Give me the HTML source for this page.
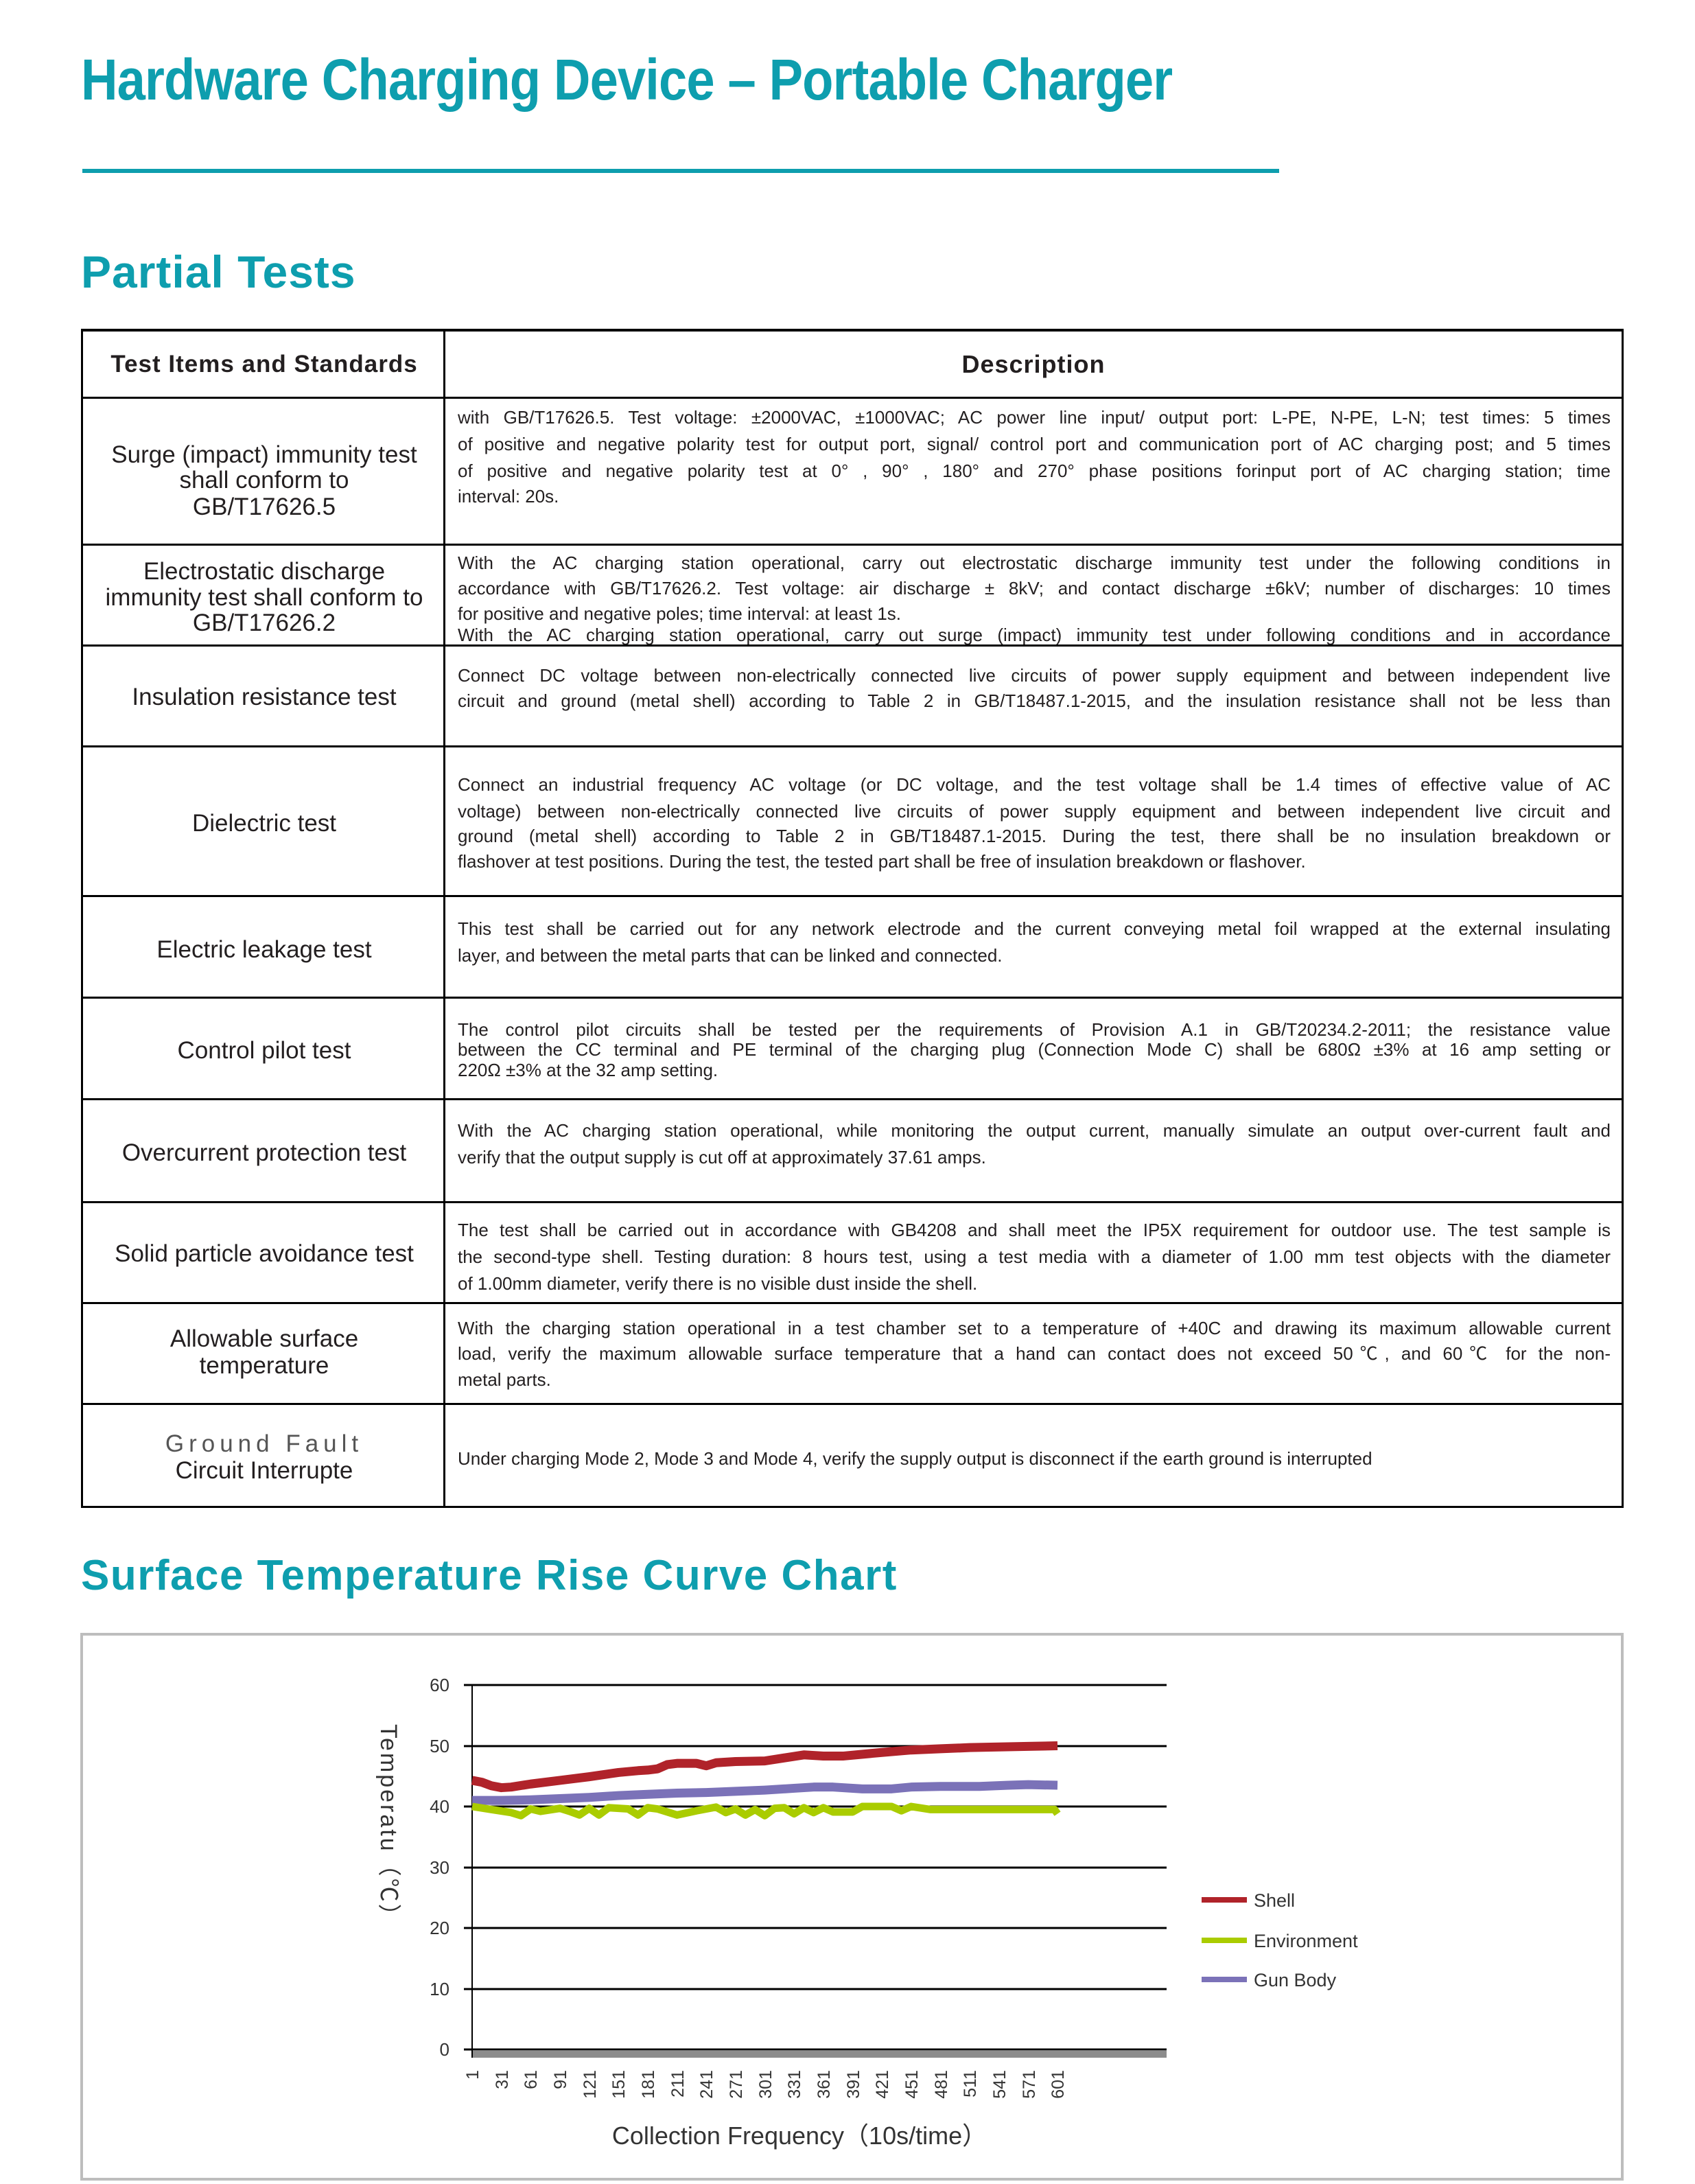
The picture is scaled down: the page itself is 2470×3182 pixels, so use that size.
<!DOCTYPE html>
<html><head><meta charset="utf-8">
<style>
*{margin:0;padding:0;box-sizing:border-box}
body{width:2470px;height:3182px;background:#fff;position:relative;overflow:hidden;font-family:"Liberation Sans","Noto Sans CJK SC",sans-serif;color:#231f20}
.h{position:absolute;color:#0e9eae;font-weight:bold;white-space:nowrap;transform-origin:left top}
.hl{position:absolute;background:#000}
.vl{position:absolute;background:#000}
.d{position:absolute;left:667px;width:1680px;height:38px;line-height:38px;font-size:26px;white-space:nowrap;overflow:hidden;text-align:justify;text-align-last:justify}
.d.l{text-align-last:left}
.c{position:absolute;left:120px;width:530px;height:40px;line-height:40px;font-size:35px;text-align:center;white-space:nowrap}
</style></head><body>
<div class="h" style="left:118px;top:68px;font-size:84px;transform:scaleX(0.883);letter-spacing:-1px">Hardware Charging Device – Portable Charger</div>
<div style="position:absolute;left:120px;top:246px;width:1744px;height:6px;background:#0e9eae"></div>
<div class="h" style="left:118px;top:358px;font-size:66px;letter-spacing:1px">Partial Tests</div>

<div class="hl" style="left:118px;top:479px;width:2248px;height:4px"></div>
<div class="hl" style="left:118px;top:578px;width:2248px;height:3px"></div>
<div class="hl" style="left:118px;top:792px;width:2248px;height:3px"></div>
<div class="hl" style="left:118px;top:939px;width:2248px;height:3px"></div>
<div class="hl" style="left:118px;top:1086px;width:2248px;height:3px"></div>
<div class="hl" style="left:118px;top:1304px;width:2248px;height:3px"></div>
<div class="hl" style="left:118px;top:1452px;width:2248px;height:3px"></div>
<div class="hl" style="left:118px;top:1600px;width:2248px;height:3px"></div>
<div class="hl" style="left:118px;top:1750px;width:2248px;height:3px"></div>
<div class="hl" style="left:118px;top:1897px;width:2248px;height:3px"></div>
<div class="hl" style="left:118px;top:2044px;width:2248px;height:3px"></div>
<div class="hl" style="left:118px;top:2194px;width:2248px;height:3px"></div>
<div class="vl" style="left:118px;top:479px;width:3px;height:1718px"></div>
<div class="vl" style="left:646px;top:479px;width:3px;height:1718px"></div>
<div class="vl" style="left:2363px;top:479px;width:3px;height:1718px"></div>

<div class="c" style="top:511px;font-weight:bold;font-size:35px;letter-spacing:1px">Test Items and Standards</div>
<div style="position:absolute;left:649px;width:1714px;top:511px;line-height:40px;font-size:36px;font-weight:bold;text-align:center;letter-spacing:1px">Description</div>

<div class="c" style="top:643px">Surge (impact) immunity test</div>
<div class="c" style="top:680px">shall conform to</div>
<div class="c" style="top:719px">GB/T17626.5</div>
<div class="d" style="top:589px">with GB/T17626.5. Test voltage: ±2000VAC, ±1000VAC; AC power line input/ output port: L-PE, N-PE, L-N; test times: 5 times</div>
<div class="d" style="top:628px">of positive and negative polarity test for output port, signal/ control port and communication port of AC charging post; and 5 times</div>
<div class="d" style="top:667px">of positive and negative polarity test at 0° , 90° , 180°  and 270°  phase positions forinput port of AC charging station; time</div>
<div class="d l" style="top:704px">interval: 20s.</div>

<div class="c" style="top:813px">Electrostatic discharge</div>
<div class="c" style="top:851px">immunity test shall conform to</div>
<div class="c" style="top:888px">GB/T17626.2</div>
<div class="d" style="top:801px">With the AC charging station operational, carry out electrostatic discharge immunity test under the following conditions in</div>
<div class="d" style="top:838px">accordance with GB/T17626.2. Test voltage: air discharge ± 8kV; and contact discharge ±6kV; number of discharges: 10 times</div>
<div class="d l" style="top:875px">for positive and negative poles; time interval: at least 1s.</div>
<div class="d" style="top:906px;height:33px">With the AC charging station operational, carry out surge (impact) immunity test under following conditions and in accordance</div>

<div class="c" style="top:996px">Insulation resistance test</div>
<div class="d" style="top:965px">Connect DC voltage between non-electrically connected live circuits of power supply equipment and between independent live</div>
<div class="d" style="top:1002px">circuit and ground (metal shell) according to Table 2 in GB/T18487.1-2015, and the insulation resistance shall not be less than</div>

<div class="c" style="top:1180px">Dielectric test</div>
<div class="d" style="top:1124px">Connect an industrial frequency AC voltage (or DC voltage, and the test voltage shall be 1.4 times of effective value of AC</div>
<div class="d" style="top:1163px">voltage) between non-electrically connected live circuits of power supply equipment and between independent live circuit and</div>
<div class="d" style="top:1199px">ground (metal shell) according to Table 2 in GB/T18487.1-2015. During the test, there shall be no insulation breakdown or</div>
<div class="d l" style="top:1236px">flashover at test positions. During the test, the tested part shall be free of insulation breakdown or flashover.</div>

<div class="c" style="top:1364px">Electric leakage test</div>
<div class="d" style="top:1334px">This test shall be carried out for any network electrode and the current conveying metal foil wrapped at the external insulating</div>
<div class="d l" style="top:1373px">layer, and between the metal parts that can be linked and connected.</div>

<div class="c" style="top:1511px">Control pilot test</div>
<div class="d" style="top:1481px">The control pilot circuits shall be tested per the requirements of Provision A.1 in GB/T20234.2-2011; the resistance value</div>
<div class="d" style="top:1510px">between the CC terminal and PE terminal of the charging plug (Connection Mode C) shall be 680Ω  ±3% at 16 amp setting or</div>
<div class="d l" style="top:1540px">220Ω  ±3% at the 32 amp setting.</div>

<div class="c" style="top:1660px">Overcurrent protection test</div>
<div class="d" style="top:1628px">With the AC charging station operational, while monitoring the output current, manually simulate an output over-current fault and</div>
<div class="d l" style="top:1667px">verify that the output supply is cut off at approximately 37.61 amps.</div>

<div class="c" style="top:1807px">Solid particle avoidance test</div>
<div class="d" style="top:1773px">The test shall be carried out in accordance with GB4208 and shall meet the IP5X requirement for outdoor use. The test sample is</div>
<div class="d" style="top:1812px">the second-type shell. Testing duration: 8 hours test, using a test media with a diameter of 1.00 mm test objects with the diameter</div>
<div class="d l" style="top:1851px">of 1.00mm diameter, verify there is no visible dust inside the shell.</div>

<div class="c" style="top:1931px">Allowable surface</div>
<div class="c" style="top:1970px">temperature</div>
<div class="d" style="top:1916px">With the charging station operational in a test chamber set to a temperature of +40C and drawing its maximum allowable current</div>
<div class="d" style="top:1953px">load, verify the maximum allowable surface temperature that a hand can contact does not exceed 50℃, and 60℃ for the non-</div>
<div class="d l" style="top:1991px">metal parts.</div>

<div class="c" style="top:2084px;letter-spacing:7px;color:#555">Ground Fault</div>
<div class="c" style="top:2123px">Circuit Interrupte</div>
<div class="d l" style="top:2106px">Under charging Mode 2, Mode 3 and Mode 4, verify the supply output is disconnect if the earth ground is interrupted</div>

<div class="h" style="left:118px;top:2260px;font-size:62px;letter-spacing:1.5px">Surface Temperature Rise Curve Chart</div>

<svg style="position:absolute;left:0;top:0" width="2470" height="3182" xmlns="http://www.w3.org/2000/svg">
<rect x="119" y="2381" width="2245" height="794" fill="none" stroke="#bdbdbd" stroke-width="4"/>
<g stroke="#000" stroke-width="3">
<line x1="676" y1="2455" x2="1700" y2="2455"/>
<line x1="676" y1="2544" x2="1700" y2="2544"/>
<line x1="676" y1="2632" x2="1700" y2="2632"/>
<line x1="676" y1="2721" x2="1700" y2="2721"/>
<line x1="676" y1="2809" x2="1700" y2="2809"/>
<line x1="676" y1="2898" x2="1700" y2="2898"/>
<line x1="676" y1="2986" x2="1700" y2="2986"/>
<line x1="688" y1="2455" x2="688" y2="2998" stroke-width="2"/>
</g>
<rect x="689" y="2988" width="1011" height="10" fill="#8c8c8c"/>
<g font-size="26" fill="#333" text-anchor="end" font-family="Liberation Sans, sans-serif">
<text x="655" y="2464">60</text><text x="655" y="2553">50</text><text x="655" y="2641">40</text>
<text x="655" y="2730">30</text><text x="655" y="2818">20</text><text x="655" y="2907">10</text><text x="655" y="2995">0</text>
</g>
<g font-size="25" fill="#333" text-anchor="end" font-family="Liberation Sans, sans-serif">
<text transform="translate(697,3016) rotate(-90)">1</text>
<text transform="translate(740,3016) rotate(-90)">31</text>
<text transform="translate(782,3016) rotate(-90)">61</text>
<text transform="translate(825,3016) rotate(-90)">91</text>
<text transform="translate(868,3016) rotate(-90)">121</text>
<text transform="translate(910,3016) rotate(-90)">151</text>
<text transform="translate(953,3016) rotate(-90)">181</text>
<text transform="translate(996,3016) rotate(-90)">211</text>
<text transform="translate(1038,3016) rotate(-90)">241</text>
<text transform="translate(1081,3016) rotate(-90)">271</text>
<text transform="translate(1124,3016) rotate(-90)">301</text>
<text transform="translate(1166,3016) rotate(-90)">331</text>
<text transform="translate(1209,3016) rotate(-90)">361</text>
<text transform="translate(1252,3016) rotate(-90)">391</text>
<text transform="translate(1294,3016) rotate(-90)">421</text>
<text transform="translate(1337,3016) rotate(-90)">451</text>
<text transform="translate(1380,3016) rotate(-90)">481</text>
<text transform="translate(1422,3016) rotate(-90)">511</text>
<text transform="translate(1465,3016) rotate(-90)">541</text>
<text transform="translate(1508,3016) rotate(-90)">571</text>
<text transform="translate(1550,3016) rotate(-90)">601</text>
</g>
<text transform="translate(555,2512) rotate(90)" font-size="34" fill="#333" letter-spacing="3" font-family="Liberation Sans, Noto Sans CJK SC, sans-serif">Temperatu（℃）</text>
<text x="1165" y="3124" font-size="36" fill="#333" text-anchor="middle" font-family="Liberation Sans, Noto Sans CJK SC, sans-serif">Collection Frequency（10s/time）</text>
<g transform="translate(688,2986) scale(1.4217,-8.85) translate(-1,0)" fill="none" stroke-linejoin="round">
<polyline vector-effect="non-scaling-stroke" stroke="#7b72b8" stroke-width="13" points="1,41 31,41 61,41.1 91,41.3 121,41.5 151,41.8 181,42 211,42.2 241,42.3 271,42.5 301,42.7 331,43 351,43.2 371,43.2 401,42.9 431,42.9 451,43.2 481,43.3 521,43.3 551,43.5 571,43.6 601,43.5"/>
<polyline vector-effect="non-scaling-stroke" stroke="#aacc00" stroke-width="11" points="1,40 21,39.5 41,39 51,38.5 61,39.6 71,39.2 91,39.7 101,39.2 111,38.6 121,39.7 131,38.6 141,39.8 161,39.6 171,38.6 181,39.8 191,39.6 211,38.6 231,39.3 251,39.9 261,39 271,39.6 281,38.6 291,39.5 301,38.5 311,39.7 321,39.8 331,38.8 341,39.8 351,39 361,39.8 371,39.1 391,39.1 401,40 431,40 441,39.3 451,40 471,39.5 531,39.5 591,39.5 598,39.5 601,38.8"/>
<polyline vector-effect="non-scaling-stroke" stroke="#b0232a" stroke-width="13" points="1,44.3 11,44 21,43.4 31,43.1 41,43.2 61,43.7 91,44.3 121,44.9 151,45.6 171,45.9 181,46 191,46.2 201,46.9 211,47.1 231,47.1 241,46.7 251,47.2 271,47.4 301,47.5 321,48 341,48.5 361,48.3 381,48.3 421,48.9 451,49.3 481,49.5 511,49.7 541,49.8 571,49.9 601,50"/>
</g>
<line x1="1751" y1="2768" x2="1817" y2="2768" stroke="#b0232a" stroke-width="8"/>
<line x1="1751" y1="2827" x2="1817" y2="2827" stroke="#aacc00" stroke-width="8"/>
<line x1="1751" y1="2884" x2="1817" y2="2884" stroke="#7b72b8" stroke-width="8"/>
<g font-size="27" fill="#333" font-family="Liberation Sans, sans-serif">
<text x="1827" y="2778">Shell</text><text x="1827" y="2837">Environment</text><text x="1827" y="2894">Gun Body</text>
</g>
</svg>
</body></html>
